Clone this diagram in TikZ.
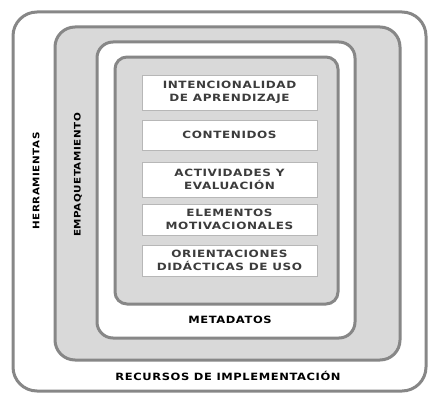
\documentclass[tikz,border=0pt]{standalone}
\usepackage{fontspec}
\setmainfont{DejaVu Sans}
\newfontfamily\ItemFont[LetterSpace=6,FakeStretch=1.2]{DejaVu Sans}
\newfontfamily\LabelFont[LetterSpace=6,FakeStretch=1.15]{DejaVu Sans}
\usepackage{xcolor}
\definecolor{Col1}{RGB}{135,135,135}
\definecolor{Col2}{RGB}{217,217,217}
\definecolor{Col3}{RGB}{60,60,60}
\usepackage{tikz}
\tikzstyle{Layer}=[draw=Col1,line width=3pt]
\tikzstyle{Item}=[draw=Col1!60,fill=white,line width=1pt,minimum width=175pt,
inner sep=0pt,text=Col3,align=center,font=\ItemFont\bfseries\fontsize{10}{12.5}\selectfont]
\tikzstyle{Label}=[text=black,font=\LabelFont\bfseries\fontsize{9}{11}\selectfont]
\tikzstyle{LabelL}=[text=black,font=\LabelFont\bfseries\fontsize{10}{12}\selectfont]

\begin{document}
\begin{tikzpicture}[x=1pt,y=-1pt]
        \useasboundingbox(0,0)rectangle(430,396);
        \draw[Layer,fill=white,rounded corners=24pt](13,12)rectangle(426,391);
        \draw[Layer,fill=Col2,rounded corners=20pt](55,27)rectangle(400,360);
        \draw[Layer,fill=white,rounded corners=16pt](97,42)rectangle(355,338);
        \draw[Layer,fill=Col2,rounded corners=12pt](115,57)rectangle(338,304);
        \node[Item,minimum height=35pt](int)at(229.5,92.5){INTENCIONALIDAD\\DE APRENDIZAJE};
        \node[Item,minimum height=30pt](con)at(229.5,135.0){CONTENIDOS};
        \node[Item,minimum height=35pt](act)at(229.5,179.5){ACTIVIDADES Y\\EVALUACIÓN};
        \node[Item,minimum height=31pt](ele)at(229.5,219.5){ELEMENTOS\\MOTIVACIONALES};
        \node[Item,minimum height=31pt](ori)at(229.5,260.5){ORIENTACIONES\\DIDÁCTICAS DE USO};
        \node[Label,rotate=90](her)at(36,181){HERRAMIENTAS};
        \node[Label,rotate=90](emp)at(78,175){EMPAQUETAMIENTO};
        \node[LabelL](met)at(230,320){METADATOS};
        \node[LabelL](rec)at(228,376){RECURSOS DE IMPLEMENTACIÓN};
    \end{tikzpicture}
\end{document}
